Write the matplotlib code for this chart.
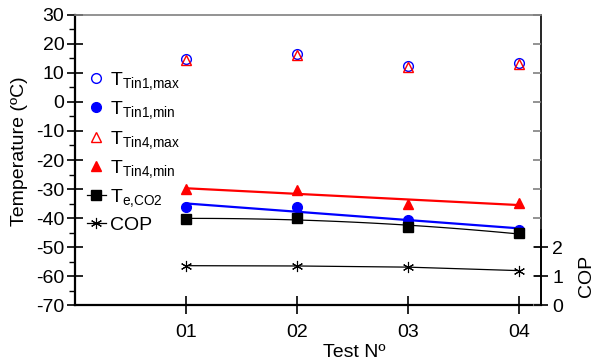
import numpy as np
import matplotlib
matplotlib.use('Agg')
import matplotlib.pyplot as plt

plt.rcParams['font.family'] = ['Liberation Sans', 'DejaVu Sans']
plt.rcParams['mathtext.fontset'] = 'custom'
plt.rcParams['mathtext.rm'] = 'Liberation Sans'
plt.rcParams['mathtext.it'] = 'Liberation Sans'
plt.rcParams['axes.unicode_minus'] = False

# datos
tests = ['01', '02', '03', '04']
t_tin1_max = [14.9, 16.4, 12.5, 13.5]
t_tin1_min = [-36.1, -36.1, -40.7, -44.1]
t_tin4_max = [14.6, 16.1, 12.2, 13.2]
t_tin4_min = [-30.1, -30.3, -35.2, -34.9]
t_e_co2 = [-40.3, -40.1, -43.0, -45.3]
cop = [1.36, 1.35, 1.31, 1.19]

x = np.arange(1, len(tests) + 1)

fig = plt.figure(figsize=(5.94, 3.62), dpi=100)
ax = fig.add_axes([0.126, 0.157, 0.785, 0.802])

# ajustes lineales / cuadratico
xf = np.linspace(1, 4, 50)
p_red = np.polyfit(x, t_tin4_min, 1)
p_blue = np.polyfit(x, t_tin1_min, 1)
p_black = np.polyfit(x, t_e_co2, 2)
ax.plot(xf, np.polyval(p_red, xf), color='red', lw=1.6, zorder=2)
ax.plot(xf, np.polyval(p_blue, xf), color='blue', lw=1.6, zorder=2)
ax.plot(xf, np.polyval(p_black, xf), color='black', lw=0.9, zorder=2)

ax.plot(x, t_tin1_max, 'o', mfc='none', mec='blue', ms=7, mew=1.0, label=r'T$_{\mathrm{Tin1{,}max}}$', zorder=3)
ax.plot(x, t_tin1_min, 'o', color='blue', ms=7, label=r'T$_{\mathrm{Tin1{,}min}}$', zorder=3)
ax.plot(x, t_tin4_max, '^', mfc='none', mec='red', ms=7, mew=1.0, label=r'T$_{\mathrm{Tin4{,}max}}$', zorder=3)
ax.plot(x, t_tin4_min, '^', color='red', ms=7, label=r'T$_{\mathrm{Tin4{,}min}}$', zorder=3)
ax.plot(x, t_e_co2, 's', color='black', ms=7, zorder=3)

ax.set_xlim(0, 4.2)
ax.set_ylim(-70, 30)
ax.set_xticks(x)
ax.set_xticklabels(tests)
ax.set_yticks(np.arange(-70, 31, 10))
ax.set_yticks(np.arange(-65, 30, 10), minor=True)
ax.tick_params(axis='both', labelsize=14)
ax.tick_params(axis='y', which='major', direction='inout', length=11, width=1.2, pad=2)
ax.tick_params(axis='y', which='minor', direction='out', length=4, width=1.0)
ax.tick_params(axis='x', which='major', direction='inout', length=13, width=1.2, pad=7)

ax.spines['left'].set_linewidth(1.6)
ax.spines['bottom'].set_linewidth(1.6)
ax.spines['top'].set_color('grey')
ax.spines['top'].set_linewidth(1.2)
ax.spines['right'].set_linewidth(1.2)

ax.set_xlabel('Test Nº', fontsize=14)
ax.xaxis.set_label_coords(0.6, -0.135)
ax.set_ylabel('Temperature (ºC)', fontsize=14)
ax.yaxis.set_label_coords(-0.1, 0.53)

# marcas grises hacia dentro en el borde derecho
ax3 = ax.twinx()
ax3.set_ylim(-70, 30)
ax3.set_yticks(np.arange(-70, 31, 10))
ax3.tick_params(axis='y', direction='in', length=6, width=1.2, color='grey', labelright=False)
for s in ax3.spines.values():
    s.set_visible(False)

# eje secundario COP
ax2 = ax.twinx()
ax2.plot(x, cop, color='black', lw=0.9, marker=(6, 2, 0), ms=8, mew=0.8, zorder=3)
ax2.set_ylim(0, 10)
ax2.set_yticks([0, 1, 2])
ax2.spines['right'].set_bounds(0, 2.6)
ax2.spines['right'].set_linewidth(1.2)
for s in ['top', 'left', 'bottom']:
    ax2.spines[s].set_visible(False)
ax2.tick_params(axis='y', direction='inout', length=10, width=1.2, labelsize=14, pad=3)
ax2.set_ylabel('COP', fontsize=14)
ax2.yaxis.set_label_coords(1.08, 0.1)

# leyenda
h, l = ax.get_legend_handles_labels()
h_co2, = ax.plot([], [], color='black', marker='s', ms=7, lw=0.9)
h_cop, = ax.plot([], [], color='black', marker=(6, 2, 0), ms=8, mew=0.8, lw=0.9)
h += [h_co2, h_cop]
l += [r'T$_{\mathrm{e{,}CO2}}$', 'COP']
ax.legend(h, l, loc='upper left', bbox_to_anchor=(0.0, 0.85), frameon=False,
          fontsize=14, handlelength=1.0, handletextpad=0.2, labelspacing=0.38,
          borderaxespad=0.2, numpoints=1)

fig.savefig('out.png', dpi=100)
